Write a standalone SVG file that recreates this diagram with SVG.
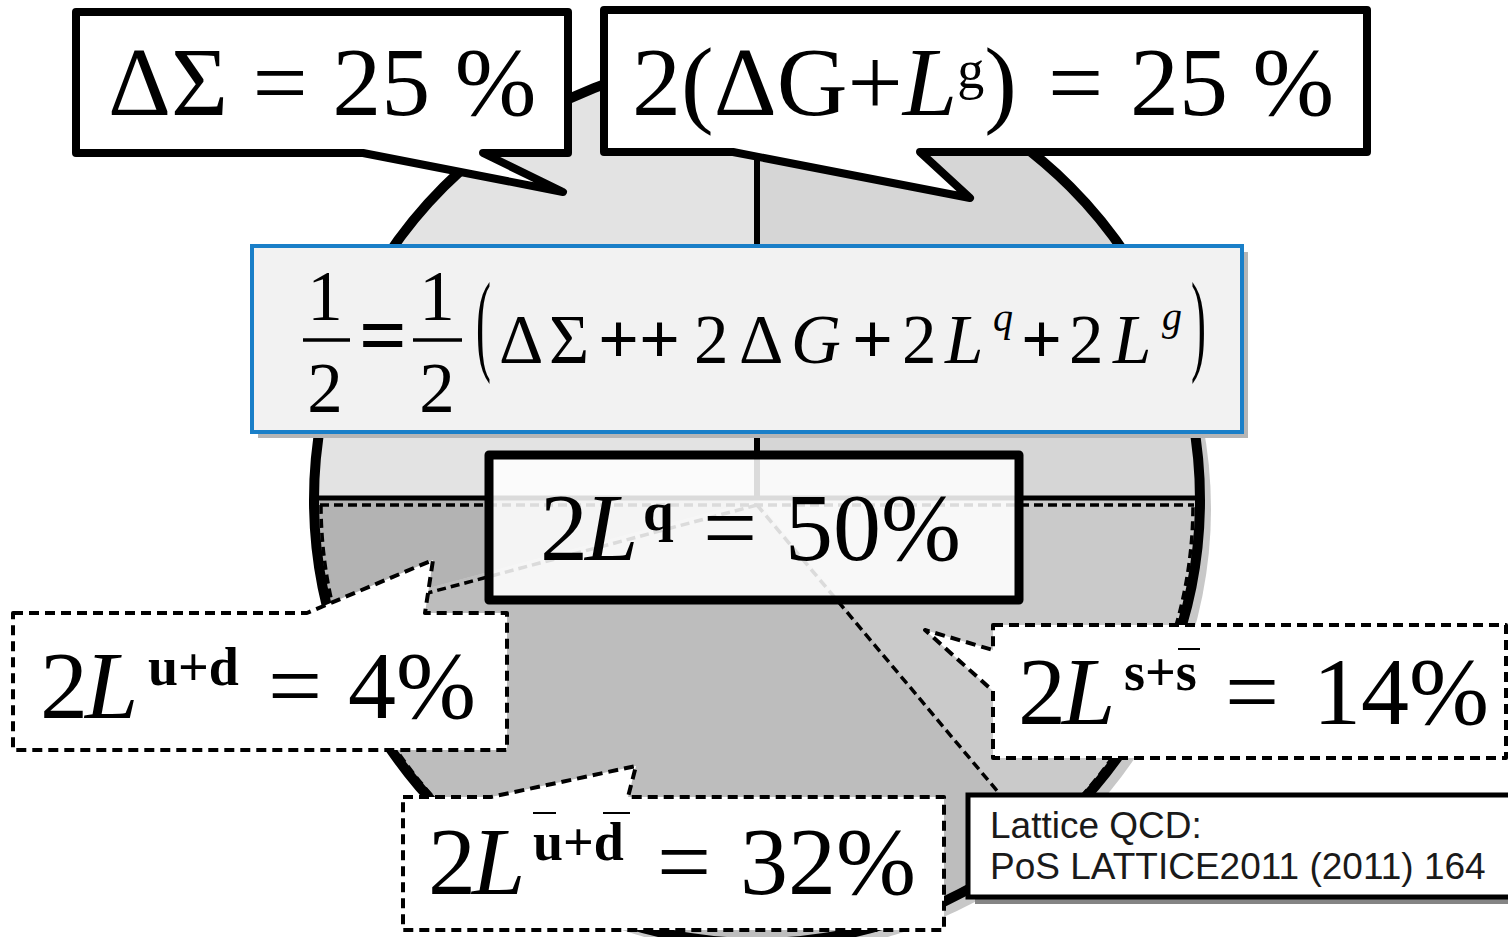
<svg xmlns="http://www.w3.org/2000/svg" width="1508" height="937" viewBox="0 0 1508 937">
<defs>
<style>
.m{font-family:"Liberation Serif","Times New Roman",serif;fill:#000}
.s{font-family:"Liberation Sans",Arial,sans-serif;fill:#1a1a1a}
.call{fill:#fff;stroke:#000;stroke-width:8;stroke-linejoin:round}
.dcall{fill:#fff;stroke:#000;stroke-width:4;stroke-dasharray:10 6;stroke-linejoin:round}
.dl{fill:none;stroke:#000;stroke-width:3.5;stroke-dasharray:9 5}
.it{font-style:italic}
.b{font-weight:bold}
.p{font-weight:bold;font-size:72px}
</style>
</defs>
<rect width="1508" height="937" fill="#fff"/>
<g id="pie">
<circle cx="766" cy="509" r="445" fill="#c8c8c8"/>
<path d="M757,500 L314,500 A443,443 0 0 1 757,57 Z" fill="#e3e3e3"/>
<path d="M757,500 L757,57 A443,443 0 0 1 1200,500 Z" fill="#d6d6d6"/>
<path d="M757,500 L314,500 A443,443 0 0 0 329.1,614.7 Z" fill="#b3b3b3"/>
<path d="M757,500 L329.1,614.7 A443,443 0 0 0 1039.4,841.3 Z" fill="#bdbdbd"/>
<path d="M757,500 L1039.4,841.3 A443,443 0 0 0 1200,500 Z" fill="#cacaca"/>
<line x1="320" y1="505" x2="1194" y2="505" class="dl"/>
<line x1="757" y1="505" x2="334" y2="618" class="dl"/>
<line x1="757" y1="505" x2="1035" y2="836" class="dl"/>
<path d="M321,505 A436,436 0 0 0 1193,505" class="dl"/>
<circle cx="757" cy="500" r="443" fill="none" stroke="#000" stroke-width="10"/>
<line x1="757" y1="57" x2="757" y2="500" stroke="#000" stroke-width="6"/>
<line x1="314" y1="498" x2="1200" y2="498" stroke="#000" stroke-width="5"/>
</g>
<g id="sigma">
<path class="call" d="M76,12 H568 V153 H483 L563,192 L363,153 H76 Z"/>
<text class="m" x="108" y="115" font-size="98">ΔΣ = 25 %</text>
</g>
<g id="gluon">
<path class="call" d="M604,10 H1367 V152 H920 L970,198 L733,152 H604 Z"/>
<text class="m" y="115" font-size="98"><tspan x="632">2(ΔG+</tspan><tspan class="it">L</tspan><tspan font-size="54" dy="-27">g</tspan><tspan dy="27">)</tspan><tspan x="1048">=</tspan><tspan x="1130">25 %</tspan></text>
</g>
<g id="formula">
<rect x="258" y="252" width="990" height="186" fill="#b5b5b5"/>
<rect x="252" y="246" width="990" height="186" fill="#f2f2f2" stroke="#1a7fc8" stroke-width="4"/>
<text class="m" font-size="71" text-anchor="middle"><tspan x="325" y="320">1</tspan><tspan x="325" y="412">2</tspan><tspan x="437" y="320">1</tspan><tspan x="437" y="412">2</tspan></text>
<line x1="303" y1="340" x2="350" y2="340" stroke="#000" stroke-width="3.5"/>
<line x1="413" y1="340" x2="462" y2="340" stroke="#000" stroke-width="3.5"/>
<text class="m b" x="383" y="364" font-size="84" text-anchor="middle">=</text>
<text class="m" font-size="112" transform="translate(476,360) scale(0.4,1)">(</text>
<text class="m" font-size="112" transform="translate(1191,360) scale(0.4,1)">)</text>
<text class="m" font-size="69" y="363"><tspan x="499">Δ</tspan><tspan x="549">Σ</tspan><tspan x="598" class="p">+</tspan><tspan x="639" class="p">+</tspan><tspan x="694">2</tspan><tspan x="739">Δ</tspan><tspan x="791" class="it">G</tspan><tspan x="852" class="p">+</tspan><tspan x="902">2</tspan><tspan x="945" class="it">L</tspan><tspan x="993" y="331" font-size="40" class="it">q</tspan><tspan x="1021" y="363" class="p">+</tspan><tspan x="1069">2</tspan><tspan x="1113" class="it">L</tspan><tspan x="1162" y="330" font-size="40" class="it">g</tspan></text>
</g>
<g id="quark">
<rect x="489" y="455" width="530" height="145" fill="#fff" fill-opacity="0.86" stroke="#000" stroke-width="9" stroke-linejoin="round"/>
<text class="m" y="560" font-size="96"><tspan x="540">2</tspan><tspan x="585" class="it">L</tspan><tspan class="b" font-size="55" x="643" y="530">q</tspan><tspan x="703" y="560">=</tspan><tspan x="785">50%</tspan></text>
</g>
<g id="ud">
<path class="dcall" d="M13,613 H307 L433,560 L425,613 H507 V750 H13 Z"/>
<text class="m" y="718" font-size="96"><tspan x="40">2</tspan><tspan x="85" class="it">L</tspan><tspan class="b" font-size="54" x="148" y="685">u+d</tspan><tspan x="268" y="718">=</tspan><tspan x="348">4%</tspan></text>
</g>
<g id="ubardbar">
<path class="dcall" d="M403,797 H491 L636,766 L628,797 H944 V930 H403 Z"/>
<text class="m" y="894" font-size="96"><tspan x="428">2</tspan><tspan x="472" class="it">L</tspan><tspan class="b" font-size="54" x="533" y="860">u+d</tspan><tspan x="657" y="894">=</tspan><tspan x="740">32%</tspan></text>
<line x1="533" y1="813" x2="556" y2="813" stroke="#000" stroke-width="2"/>
<line x1="603" y1="813" x2="630" y2="813" stroke="#000" stroke-width="2"/>
</g>
<g id="ssbar">
<path class="dcall" d="M993,625 H1506 V758 H993 V691 L925,630 L993,650 Z"/>
<text class="m" y="724" font-size="96"><tspan x="1018">2</tspan><tspan x="1062" class="it">L</tspan><tspan class="b" font-size="54" x="1124" y="690">s+s</tspan><tspan x="1225" y="724">=</tspan><tspan x="1313">14%</tspan></text>
<line x1="1178" y1="649" x2="1200" y2="649" stroke="#000" stroke-width="2"/>
</g>
<g id="lattice">
<rect x="975" y="802" width="560" height="102" fill="#858585"/>
<rect x="968" y="795" width="560" height="102" fill="#fff" stroke="#000" stroke-width="5"/>
<text class="s" x="990" y="838" font-size="37">Lattice QCD:</text>
<text class="s" x="990" y="879" font-size="37">PoS LATTICE2011 (2011) 164</text>
</g>
</svg>
